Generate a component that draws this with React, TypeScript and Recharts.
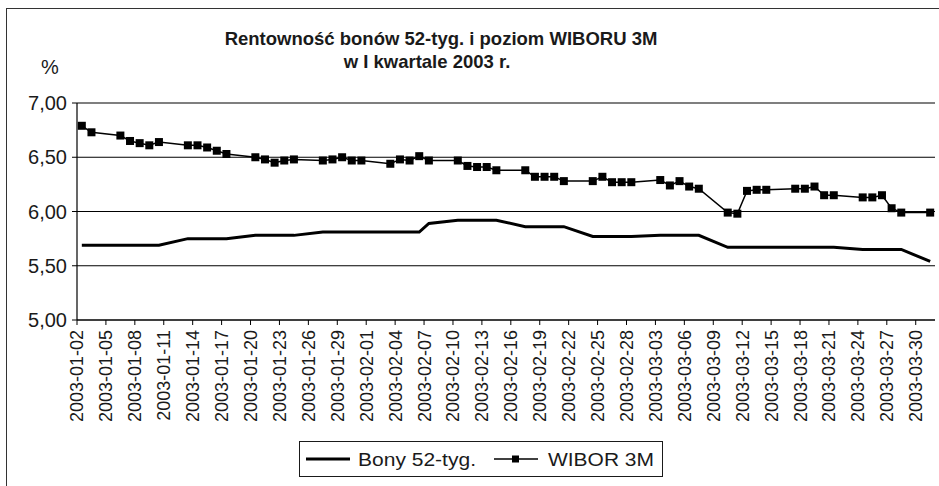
import { LineChart, Line, XAxis, YAxis, CartesianGrid, Legend } from 'recharts';

// business days in Q1 2003
const dates = [
  '2003-01-02', '2003-01-03', '2003-01-06', '2003-01-07', '2003-01-08', '2003-01-09', '2003-01-10',
  '2003-01-13', '2003-01-14', '2003-01-15', '2003-01-16', '2003-01-17',
  '2003-01-20', '2003-01-21', '2003-01-22', '2003-01-23', '2003-01-24',
  '2003-01-27', '2003-01-28', '2003-01-29', '2003-01-30', '2003-01-31',
  '2003-02-03', '2003-02-04', '2003-02-05', '2003-02-06', '2003-02-07',
  '2003-02-10', '2003-02-11', '2003-02-12', '2003-02-13', '2003-02-14',
  '2003-02-17', '2003-02-18', '2003-02-19', '2003-02-20', '2003-02-21',
  '2003-02-24', '2003-02-25', '2003-02-26', '2003-02-27', '2003-02-28',
  '2003-03-03', '2003-03-04', '2003-03-05', '2003-03-06', '2003-03-07',
  '2003-03-10', '2003-03-11', '2003-03-12', '2003-03-13', '2003-03-14',
  '2003-03-17', '2003-03-18', '2003-03-19', '2003-03-20', '2003-03-21',
  '2003-03-24', '2003-03-25', '2003-03-26', '2003-03-27', '2003-03-28',
  '2003-03-31',
];

const bony = [
  5.69, 5.69, 5.69, 5.69, 5.69, 5.69, 5.69,
  5.75, 5.75, 5.75, 5.75, 5.75,
  5.78, 5.78, 5.78, 5.78, 5.78,
  5.81, 5.81, 5.81, 5.81, 5.81,
  5.81, 5.81, 5.81, 5.81, 5.89,
  5.92, 5.92, 5.92, 5.92, 5.92,
  5.86, 5.86, 5.86, 5.86, 5.86,
  5.77, 5.77, 5.77, 5.77, 5.77,
  5.78, 5.78, 5.78, 5.78, 5.78,
  5.67, 5.67, 5.67, 5.67, 5.67,
  5.67, 5.67, 5.67, 5.67, 5.67,
  5.65, 5.65, 5.65, 5.65, 5.65,
  5.54,
];

const wibor = [
  6.79, 6.73, 6.70, 6.65, 6.63, 6.61, 6.64,
  6.61, 6.61, 6.59, 6.56, 6.53,
  6.50, 6.48, 6.45, 6.47, 6.48,
  6.47, 6.48, 6.50, 6.47, 6.47,
  6.44, 6.48, 6.47, 6.51, 6.47,
  6.47, 6.42, 6.41, 6.41, 6.38,
  6.38, 6.32, 6.32, 6.32, 6.28,
  6.28, 6.32, 6.27, 6.27, 6.27,
  6.29, 6.24, 6.28, 6.23, 6.21,
  5.99, 5.98, 6.19, 6.20, 6.20,
  6.21, 6.21, 6.23, 6.15, 6.15,
  6.13, 6.13, 6.15, 6.03, 5.99,
  5.99,
];

const yTicks = [5, 5.5, 6, 6.5, 7];

const DAY = 86400000;
const START = Date.UTC(2003, 0, 2);
const DAYS = 89; // 2003-01-02 .. 2003-03-31

const dayOf = (s: string) => {
  const [y, m, d] = s.split('-').map(Number);
  return (Date.UTC(y, m - 1, d) - START) / DAY;
};

const dateLabel = (day: number) => new Date(START + day * DAY).toISOString().slice(0, 10);

const xTicks = Array.from({ length: 30 }, (_, i) => i * 3);

const data = dates.map((d, i) => ({
  x: dayOf(d) + 0.5,
  bony: bony[i],
  wibor: wibor[i],
}));

const FONT = '"Liberation Sans", Arial, sans-serif';
const INK = '#1a1a1a';

const DateTick = (props: any) => {
  const { x, y, payload } = props;
  return (
    <text
      transform={`translate(${x},${y + 3}) rotate(-90)`}
      textAnchor="end"
      dy="0.36em"
      fontSize={18}
      fontFamily={FONT}
      fill={INK}
    >
      {dateLabel(payload.value)}
    </text>
  );
};

const SquareDot = (props: any) => {
  const { cx, cy, index } = props;
  if (cx == null || cy == null) return null;
  return <rect key={index} x={cx - 4} y={cy - 4} width={8} height={8} fill="#000" />;
};

const LegendBox = () => (
  <div
    style={{
      width: 364,
      height: 36,
      boxSizing: 'border-box',
      border: `1.5px solid ${INK}`,
      background: '#fff',
      position: 'relative',
    }}
  >
    <svg width={364} height={36} style={{ position: 'absolute', left: -1.5, top: -1.5 }}>
      <line x1={7} y1={18} x2={51} y2={18} stroke="#000" strokeWidth={3} />
      <text x={59} y={24.5} fontSize={18.5} fontFamily={FONT} fill={INK} textLength={118} lengthAdjust="spacingAndGlyphs">
        Bony 52-tyg.
      </text>
      <line x1={195} y1={18} x2={239} y2={18} stroke="#000" strokeWidth={1.5} />
      <rect x={213} y={14.5} width={7} height={7} fill="#000" />
      <text x={249} y={24.5} fontSize={18.5} fontFamily={FONT} fill={INK} textLength={106} lengthAdjust="spacingAndGlyphs">
        WIBOR 3M
      </text>
    </svg>
  </div>
);

export default function App() {
  return (
    <div style={{ position: 'absolute', left: 0, top: 0, width: 939, height: 486, background: '#fff', overflow: 'hidden' }}>
      <div
        style={{
          position: 'absolute',
          left: 6,
          top: 8,
          width: 960,
          height: 500,
          borderLeft: '1.5px solid #333',
          borderTop: '1.5px solid #333',
        }}
      />
      <svg width={939} height={100} style={{ position: 'absolute', left: 0, top: 0 }}>
        <text x={441} y={45} textAnchor="middle" fontSize={18.5} fontWeight="bold" fontFamily={FONT} fill={INK}>
          Rentowność bonów 52-tyg. i poziom WIBORU 3M
        </text>
        <text x={427} y={68} textAnchor="middle" fontSize={18.5} fontWeight="bold" fontFamily={FONT} fill={INK}>
          w I kwartale 2003 r.
        </text>
        <text x={50} y={74} textAnchor="middle" fontSize={20} fontFamily={FONT} fill={INK}>%</text>
      </svg>
      <div style={{ position: 'absolute', left: 0, top: 0 }}>
        <LineChart
          width={939}
          height={486}
          data={data}
          margin={{ top: 103, right: 4, bottom: 56, left: 0 }}
        >
          <CartesianGrid vertical={false} stroke="#000" strokeWidth={1.2} />
          <XAxis
            dataKey="x"
            type="number"
            domain={[0, DAYS]}
            ticks={xTicks}
            interval={0}
            height={110}
            tickSize={5}
            tick={<DateTick />}
            axisLine={{ stroke: '#000', strokeWidth: 1.2 }}
            tickLine={{ stroke: '#000' }}
            allowDataOverflow
          />
          <YAxis
            type="number"
            domain={[5, 7]}
            ticks={yTicks}
            width={77}
            tickSize={5}
            tickMargin={5}
            tickFormatter={(v: number) => v.toFixed(2).replace('.', ',')}
            tick={{ fontSize: 20, fontFamily: FONT, fill: INK }}
            axisLine={{ stroke: '#000', strokeWidth: 1.2 }}
            tickLine={{ stroke: '#000' }}
          />
          <Line
            type="linear"
            dataKey="bony"
            name="Bony 52-tyg."
            stroke="#000"
            strokeWidth={3}
            dot={false}
            activeDot={false}
            isAnimationActive={false}
          />
          <Line
            type="linear"
            dataKey="wibor"
            name="WIBOR 3M"
            stroke="#000"
            strokeWidth={1.5}
            dot={<SquareDot />}
            activeDot={false}
            isAnimationActive={false}
          />
          <Legend
            layout="horizontal"
            verticalAlign="middle"
            align="center"
            content={<LegendBox />}
            wrapperStyle={{ position: 'absolute', left: 299, top: 441, width: 364, height: 36 }}
          />
        </LineChart>
      </div>
    </div>
  );
}
